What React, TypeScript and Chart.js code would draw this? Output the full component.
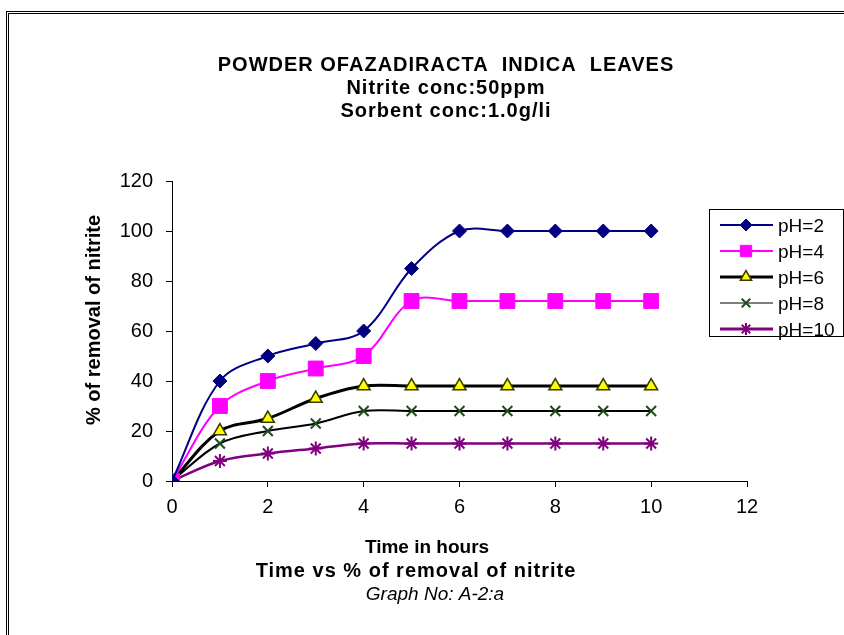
import React, { useEffect, useRef } from 'react';
import { Chart, registerables } from 'chart.js';
import { drawPoint } from 'chart.js/helpers';

Chart.register(...registerables);

// ---- data ----
const hours = [0, 1, 2, 3, 4, 5, 6, 7, 8, 9, 10];
const ph2 = [0, 40, 50, 55, 60, 85, 100, 100, 100, 100, 100];
const ph4 = [0, 30, 40, 45, 50, 72, 72, 72, 72, 72, 72];
const ph6 = [0, 20, 25, 33, 38, 38, 38, 38, 38, 38, 38];
const ph8 = [0, 15, 20, 23, 28, 28, 28, 28, 28, 28, 28];
const ph10 = [0, 8, 11, 13, 15, 15, 15, 15, 15, 15, 15];
const seriesLabels = ['pH=2', 'pH=4', 'pH=6', 'pH=8', 'pH=10'];
const xTickValues = [0, 2, 4, 6, 8, 10, 12];
const yTickValues = [0, 20, 40, 60, 80, 100, 120];

const titleLines = ['POWDER OFAZADIRACTA  INDICA  LEAVES', 'Nitrite conc:50ppm', 'Sorbent conc:1.0g/li'];
const xTitleLines = ['Time in hours', 'Time vs % of removal of nitrite'];
const graphNo = 'Graph No: A-2:a';
const yTitle = '% of removal of nitrite';

const FONT = '"Liberation Sans", Arial, Helvetica, sans-serif';

const styles = [
  { line: '#000080', fill: '#000080', border: '#000080', style: 'rectRot', radius: 7, bw: 1, lw: 2, legendLw: 2 },
  { line: '#FF00FF', fill: '#FF00FF', border: '#FF00FF', style: 'rect', radius: 10.5, bw: 1, lw: 2, legendLw: 2 },
  { line: '#000000', fill: '#FFFF00', border: '#3a3a00', style: 'triangle', radius: 7.5, bw: 1.5, lw: 3, legendLw: 3 },
  { line: '#000000', fill: 'rgba(0,0,0,0)', border: '#1d4d1d', style: 'crossRot', radius: 7, bw: 2, lw: 2, legendLw: 1 },
  { line: '#800080', fill: '#800080', border: '#800080', style: 'star', radius: 7, bw: 2, lw: 2.5, legendLw: 3 },
];

const seriesValues = [ph2, ph4, ph6, ph8, ph10];

const decorPlugin = {
  id: 'decor',
  beforeDraw(chart: any) {
    const ctx = chart.ctx;
    ctx.save();
    ctx.fillStyle = '#ffffff';
    ctx.fillRect(0, 0, chart.width, chart.height);
    ctx.strokeStyle = '#000000';
    ctx.lineWidth = 1;
    ctx.strokeRect(6.5, 11.5, 1000, 1000);
    ctx.strokeRect(8.5, 13.5, 1000, 1000);
    ctx.restore();
  },
  afterDraw(chart: any) {
    const ctx = chart.ctx;
    ctx.save();
    ctx.fillStyle = '#000000';
    ctx.textAlign = 'center';
    ctx.textBaseline = 'alphabetic';

    ctx.font = `bold 20px ${FONT}`;
    (ctx as any).letterSpacing = '1px';
    titleLines.forEach((t, i) => ctx.fillText(t, 446, 71 + i * 23));
    (ctx as any).letterSpacing = '0px';

    ctx.font = `bold 19px ${FONT}`;
    ctx.fillText(xTitleLines[0], 427, 553);
    ctx.font = `bold 20px ${FONT}`;
    (ctx as any).letterSpacing = '1px';
    ctx.fillText(xTitleLines[1], 416, 577);
    (ctx as any).letterSpacing = '0px';
    ctx.font = `italic 19px ${FONT}`;
    ctx.fillText(graphNo, 435, 600);

    ctx.save();
    ctx.translate(100, 320);
    ctx.rotate(-Math.PI / 2);
    ctx.font = `bold 20px ${FONT}`;
    ctx.fillText(yTitle, 0, 0);
    ctx.restore();

    // legend
    ctx.strokeStyle = '#000000';
    ctx.lineWidth = 1;
    ctx.strokeRect(709.5, 209.5, 134, 127);
    chart.data.datasets.forEach((ds: any, i: number) => {
      const s = styles[i];
      const y = 225 + i * 26;
      ctx.beginPath();
      ctx.strokeStyle = s.line;
      ctx.lineWidth = s.legendLw;
      ctx.moveTo(720, y);
      ctx.lineTo(773, y);
      ctx.stroke();
      ctx.fillStyle = s.fill;
      ctx.strokeStyle = s.border;
      ctx.lineWidth = s.bw;
      drawPoint(ctx, { pointStyle: s.style, radius: s.style === 'rect' ? 8 : s.radius - 1, borderWidth: s.bw, rotation: 0 } as any, 746, y);
      ctx.fillStyle = '#000000';
      ctx.textAlign = 'left';
      ctx.font = `19px ${FONT}`;
      ctx.fillText(ds.label, 778, y + 7);
    });
    ctx.restore();
  },
};

export default function App() {
  const ref = useRef<HTMLCanvasElement | null>(null);

  useEffect(() => {
    if (!ref.current) return;
    const datasets = seriesValues.map((vals, i) => {
      const s = styles[i];
      return {
        label: seriesLabels[i],
        data: hours.map((h, j) => ({ x: h, y: vals[j] })),
        borderColor: s.line,
        borderWidth: s.lw,
        backgroundColor: s.fill,
        pointStyle: s.style,
        pointRadius: s.radius,
        pointHoverRadius: s.radius,
        pointBackgroundColor: s.fill,
        pointBorderColor: s.border,
        pointBorderWidth: s.bw,
        tension: 0.35,
        fill: false,
      };
    });

    const chart = new Chart(ref.current, {
      type: 'line',
      data: { datasets },
      plugins: [decorPlugin],
      options: {
        responsive: false,
        animation: false,
        events: [],
        layout: { padding: { left: 82, top: 181, right: 97, bottom: 114 } },
        plugins: {
          legend: { display: false },
          title: { display: false },
          tooltip: { enabled: false },
        },
        scales: {
          x: {
            type: 'linear',
            min: 0,
            max: 12,
            afterFit(scale: any) { scale.height = 40; },
            afterBuildTicks(scale: any) { scale.ticks = xTickValues.map((v) => ({ value: v })); },
            grid: { display: true, drawOnChartArea: false, drawTicks: true, tickLength: 6, color: '#000000', lineWidth: 1 },
            border: { display: true, color: '#000000', width: 1 },
            ticks: { color: '#000000', font: { family: FONT, size: 20 }, padding: 8, maxRotation: 0 },
          },
          y: {
            type: 'linear',
            min: 0,
            max: 120,
            afterFit(scale: any) { scale.width = 90; },
            afterBuildTicks(scale: any) { scale.ticks = yTickValues.map((v) => ({ value: v })); },
            grid: { display: true, drawOnChartArea: false, drawTicks: true, tickLength: 6, color: '#000000', lineWidth: 1 },
            border: { display: true, color: '#000000', width: 1 },
            ticks: { color: '#000000', font: { family: FONT, size: 20 }, padding: 13 },
          },
        },
      },
    });
    return () => chart.destroy();
  }, []);

  return (
    <div style={{ position: 'fixed', left: 0, top: 0, width: 844, height: 635, background: '#fff' }}>
      <canvas ref={ref} width={844} height={635} style={{ display: 'block', width: 844, height: 635 }} />
    </div>
  );
}
